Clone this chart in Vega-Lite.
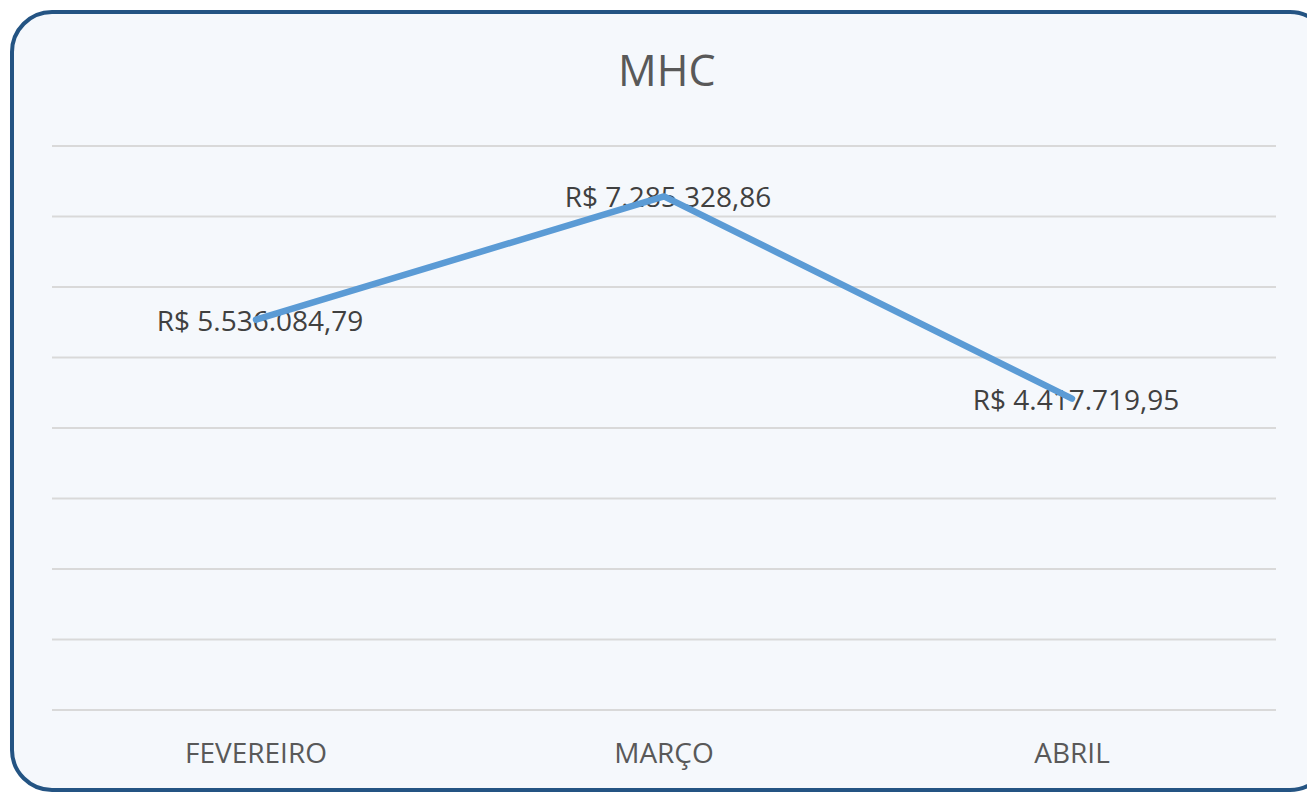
{
  "$schema": "https://vega.github.io/schema/vega-lite/v6.json",
  "autosize": {"type": "none"},
  "padding": {"left": 12, "top": 12, "right": -23, "bottom": 2},
  "width": 1318,
  "height": 778,
  "background": "#ffffff",
  "config": {
    "locale": {
      "number": {"decimal": ",", "thousands": ".", "grouping": [3], "currency": ["R$ ", ""]}
    },
    "view": {"fill": "#f5f8fc", "stroke": "#245483", "strokeWidth": 4, "cornerRadius": 40},
    "font": "Open Sans"
  },
  "title": {
    "text": "MHC",
    "anchor": "start",
    "frame": "group",
    "baseline": "alphabetic",
    "offset": -117,
    "dx": 606,
    "fontSize": 43,
    "fontWeight": "normal",
    "font": "Open Sans",
    "color": "#595959"
  },
  "datasets": {
    "vendas": [
      {"mes": "FEVEREIRO", "valor": 5536084.79},
      {"mes": "MARÇO", "valor": 7285328.86},
      {"mes": "ABRIL", "valor": 4417719.95}
    ],
    "grade": [
      {"v": 0}, {"v": 1000000}, {"v": 2000000}, {"v": 3000000}, {"v": 4000000},
      {"v": 5000000}, {"v": 6000000}, {"v": 7000000}, {"v": 8000000}
    ]
  },
  "layer": [
    {
      "data": {"name": "grade"},
      "mark": {"type": "rule", "color": "#d9d9d9", "strokeWidth": 2},
      "encoding": {
        "y": {"field": "v", "type": "quantitative", "scale": {"domain": [-1134752, 9900709], "nice": false, "zero": false}, "axis": null},
        "x": {"datum": "FEVEREIRO", "type": "nominal", "bandPosition": 0},
        "x2": {"datum": "ABRIL", "bandPosition": 1}
      }
    },
    {
      "data": {"name": "vendas"},
      "mark": {"type": "text", "fontSize": 28, "color": "#404040", "baseline": "alphabetic", "dy": 11, "dx": 4, "font": "Open Sans"},
      "encoding": {
        "x": {"field": "mes", "type": "nominal"},
        "y": {"field": "valor", "type": "quantitative"},
        "text": {"field": "valor", "type": "quantitative", "format": "$,.2f"}
      }
    },
    {
      "data": {"name": "vendas"},
      "mark": {"type": "line", "color": "#5b9bd5", "strokeWidth": 6.5, "strokeCap": "round", "strokeJoin": "round"},
      "encoding": {
        "x": {"field": "mes", "type": "nominal"},
        "y": {"field": "valor", "type": "quantitative"}
      }
    }
  ],
  "resolve": {"scale": {"x": "shared", "y": "shared"}},
  "encoding": {
    "x": {
      "field": "mes",
      "type": "nominal",
      "sort": ["FEVEREIRO", "MARÇO", "ABRIL"],
      "scale": {"type": "band", "domain": ["FEVEREIRO", "MARÇO", "ABRIL"], "paddingInner": 0, "paddingOuter": 0.1152, "align": 0.4255},
      "axis": {
        "title": null,
        "orient": "bottom",
        "offset": -80,
        "domain": false,
        "ticks": false,
        "grid": false,
        "labelAngle": 0,
        "labelBaseline": "alphabetic",
        "labelPadding": 52,
        "labelFontSize": 28,
        "labelColor": "#595959",
        "labelFont": "Open Sans"
      }
    }
  }
}
